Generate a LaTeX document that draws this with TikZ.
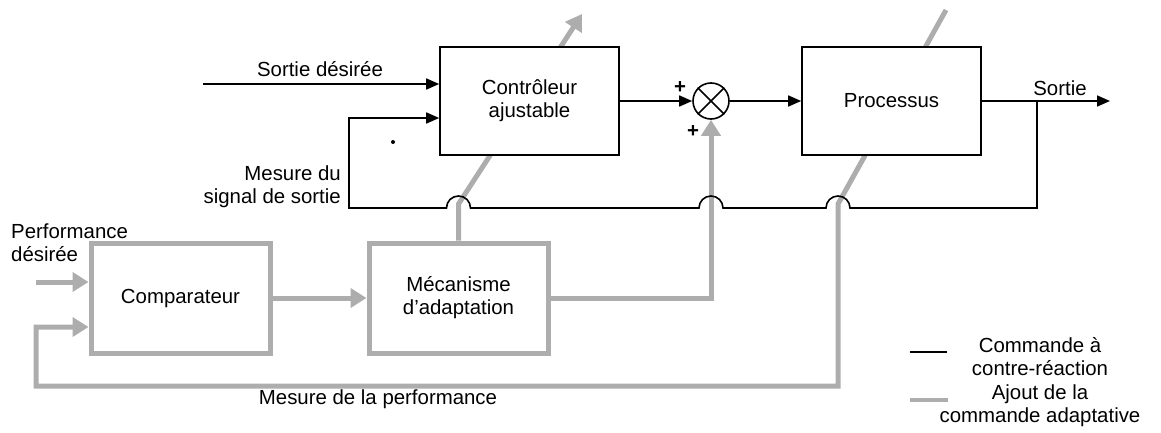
\documentclass[tikz,border=0pt]{standalone}
\usepackage{fontspec}
\setmainfont{Liberation Sans}
\usetikzlibrary{arrows.meta,backgrounds}
\definecolor{adgray}{gray}{0.68}

\begin{document}
\begin{tikzpicture}[
		x=1pt, y=1pt,
		every node/.style={font=\fontsize{20.4}{23}\selectfont, inner sep=0pt},
		block/.style={rectangle, draw, line width=1.6pt, fill=white, minimum width=179pt, minimum height=108pt, align=center},
		grayblock/.style={block, draw=adgray, line width=5pt, minimum height=110pt},
		blackline/.style={line width=1.6pt},
		grayline/.style={draw=adgray, line width=5pt},
		tip/.style={-{Triangle[length=13pt, width=11pt]}},
		graytip/.style={-{Triangle[length=16pt, width=19pt, color=adgray]}}
	]
  \useasboundingbox (0,0) rectangle (1161,432);

  % blocs de la boucle classique
  \node (ctrl) [block] at (529.5, 331) {Contrôleur\\ajustable};
  \node (proc) [block] at (891.5, 331) {Processus};
  \node (sum) [circle, draw, line width=1.6pt, minimum size=36pt] at (711, 331) {};
  \draw[blackline] (sum.north west) -- (sum.south east) (sum.north east) -- (sum.south west);

  % blocs adaptatifs
  \node (comp) [grayblock] at (180.5, 134) {Comparateur};
  \node (meca) [grayblock] at (458.5, 134) {Mécanisme\\d'adaptation};

  \coordinate (sd) at (203, 348);
  \coordinate (tap) at (1037, 331);
  \coordinate (out) at (1110, 331);
  \coordinate (corner) at (349, 224);
  \coordinate (hop_a) at (458.5, 224);
  \coordinate (hop_b) at (711, 224);
  \coordinate (hop_c) at (838, 224);
  \coordinate (pd) at (36, 150);
  \coordinate (mloop) at (36, 46);
  \coordinate (ck) at (458.5, 228);
  \coordinate (ctop) at (582, 418);
  \coordinate (pk) at (838, 228);
  \coordinate (ptop) at (946, 422);

  % textes
  \node (sd_label) [anchor=base] at (320, 355) {Sortie désirée};
  \node (fb_label) [anchor=east, align=right] at (341, 245) {Mesure du\\signal de sortie};
  \node (out_label) [anchor=base] at (1060, 337) {Sortie};
  \node (plus_a) at (680, 344) {\textbf{+}};
  \node (plus_b) at (693, 300) {\textbf{+}};
  \node (minus) [circle, fill, minimum size=4pt] at (393, 290) {};
  \node (pd_label) [anchor=west, align=left] at (11, 189) {Performance\\désirée};
  \node (mp_label) [anchor=base] at (378, 28) {Mesure de la performance};

  % boucle de contre-reaction
  \draw[blackline, tip] (sd) -- ([yshift=17pt]ctrl.west);
  \draw[blackline, tip] (ctrl.east) -- (sum.west);
  \draw[blackline, tip] (sum.east) -- (proc.west);
  \draw[blackline, tip] (proc.east) -- (out);
  \draw[blackline, tip] (tap) -- (tap |- hop_c) -- ([xshift=12pt]hop_c)
    arc[start angle=0, end angle=180, radius=12pt] -- ([xshift=12pt]hop_b)
    arc[start angle=0, end angle=180, radius=12pt] -- ([xshift=12pt]hop_a)
    arc[start angle=0, end angle=180, radius=12pt] -- (corner) |- ([yshift=-17pt]ctrl.west);

  % commande adaptative
  \begin{pgfonlayer}{background}
    \draw[grayline, graytip] (pd) -- ([yshift=16pt]comp.west);
    \draw[grayline, graytip] (comp.east) -- (meca.west);
    \draw[grayline, graytip] (meca.east) -| (sum.south);
    \draw[grayline, graytip] (meca.north) -- (ck) -- (ctop);
    \draw[grayline, graytip] (ptop) -- (pk) |- (mloop) |- ([yshift=-29pt]comp.west);
  \end{pgfonlayer}

  % legende
  \coordinate (leg_a1) at (910, 80);
  \coordinate (leg_a2) at (947, 80);
  \coordinate (leg_b1) at (910, 32);
  \coordinate (leg_b2) at (948, 32);
  \draw[blackline] (leg_a1) -- (leg_a2);
  \draw[grayline, line width=4pt] (leg_b1) -- (leg_b2);
  \node (leg_a) [align=center] at (1040, 75) {Commande à\\contre-réaction};
  \node (leg_b) [align=center] at (1040, 26) {Ajout de la\\commande adaptative};
\end{tikzpicture}
\end{document}
